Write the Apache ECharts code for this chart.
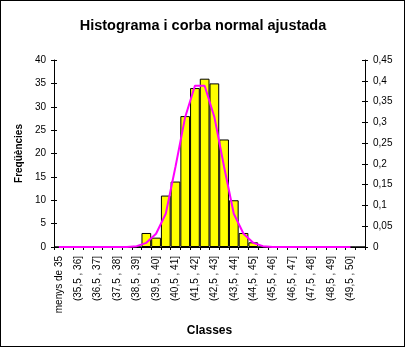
<!DOCTYPE html>
<html>
<head>
<meta charset="utf-8">
<script src="https://cdn.jsdelivr.net/npm/echarts@6/dist/echarts.min.js"></script>
<style>
html,body{margin:0;padding:0;background:#fff;}
#chart{position:absolute;left:0;top:0;width:406px;height:348px;}
#frame{position:absolute;left:0;top:0;width:405px;height:347px;box-sizing:border-box;border:1px solid #000;pointer-events:none;}
</style>
</head>
<body>
<div id="chart"></div>
<div id="frame"></div>
<script>
var categories = ["menys de 35","(35 , 35,5]","(35,5 , 36]","(36 , 36,5]","(36,5 , 37]","(37 , 37,5]","(37,5 , 38]","(38 , 38,5]","(38,5 , 39]","(39 , 39,5]","(39,5 , 40]","(40 , 40,5]","(40,5 , 41]","(41 , 41,5]","(41,5 , 42]","(42 , 42,5]","(42,5 , 43]","(43 , 43,5]","(43,5 , 44]","(44 , 44,5]","(44,5 , 45]","(45 , 45,5]","(45,5 , 46]","(46 , 46,5]","(46,5 , 47]","(47 , 47,5]","(47,5 , 48]","(48 , 48,5]","(48,5 , 49]","(49 , 49,5]","(49,5 , 50]","més de 50"];
var frequencies = [0,0,0,0,0,0,0,0,0,3,2,11,14,28,34,36,35,23,10,3,1,0,0,0,0,0,0,0,0,0,0,0];
var normalCurve = [0,0,0,0,0,0,0,0,0.002,0.01,0.032,0.08,0.193,0.313,0.388,0.388,0.313,0.193,0.08,0.032,0.01,0.002,0,0,0,0,0,0,0,0,0];
var leftTicks = {min:0,max:40,interval:5};
var rightTicks = {min:0,max:0.45,interval:0.05};

var chart = echarts.init(document.getElementById('chart'), null, {renderer:'canvas'});
var font = 'Liberation Sans, Arial, sans-serif';
function fmt(v){ return String(Math.round(v*100)/100).replace('.', ','); }
chart.setOption({
  animation:false,
  backgroundColor:'#fff',
  title:{text:'Histograma i corba normal ajustada',left:'center',top:13,
    textStyle:{fontFamily:font,fontSize:14.5,fontWeight:'bold',color:'#000'}},
  grid:{left:54,right:41,top:60,bottom:101,containLabel:false},
  xAxis:[{type:'category',data:categories,boundaryGap:true,
    name:'Classes',nameLocation:'middle',nameGap:78,
    nameTextStyle:{fontFamily:font,fontSize:12,fontWeight:'bold',color:'#000'},
    axisLine:{lineStyle:{color:'#000',width:1}},
    axisTick:{show:true,interval:0,length:3,lineStyle:{color:'#000'}},
    axisLabel:{interval:1,rotate:90,fontFamily:font,fontSize:10,color:'#000',margin:9},
    splitLine:{show:false}}],
  yAxis:[
    {type:'value',position:'left',min:leftTicks.min,max:leftTicks.max,interval:leftTicks.interval,
     name:'Freqüències',nameLocation:'middle',nameGap:25,nameRotate:90,
     nameTextStyle:{fontFamily:font,fontSize:10,fontWeight:'bold',color:'#000'},
     axisLine:{show:true,lineStyle:{color:'#000'}},
     axisTick:{show:true,length:3,lineStyle:{color:'#000'}},
     axisLabel:{fontFamily:font,fontSize:10,color:'#000',margin:8},
     splitLine:{show:false}},
    {type:'value',position:'right',min:rightTicks.min,max:rightTicks.max,interval:rightTicks.interval,
     axisLine:{show:true,lineStyle:{color:'#000'}},
     axisTick:{show:true,length:3,lineStyle:{color:'#000'}},
     axisLabel:{fontFamily:font,fontSize:10,color:'#000',margin:8,formatter:fmt},
     splitLine:{show:false}},
    {type:'value',position:'left',min:leftTicks.min,max:leftTicks.max,interval:leftTicks.interval,
     axisLine:{show:false},axisTick:{show:true,inside:true,length:3,lineStyle:{color:'#000'}},
     axisLabel:{show:false},splitLine:{show:false}},
    {type:'value',position:'right',min:rightTicks.min,max:rightTicks.max,interval:rightTicks.interval,
     axisLine:{show:false},axisTick:{show:true,inside:true,length:3,lineStyle:{color:'#000'}},
     axisLabel:{show:false},splitLine:{show:false}}
  ],
  series:[
    {type:'bar',data:frequencies,yAxisIndex:0,barCategoryGap:0,barGap:0,
     itemStyle:{color:'#FFFF00',borderColor:'#000',borderWidth:1}},
    {type:'line',data:normalCurve,yAxisIndex:1,symbol:'none',smooth:false,
     lineStyle:{color:'#FF00FF',width:2}}
  ]
});
</script>
</body>
</html>
